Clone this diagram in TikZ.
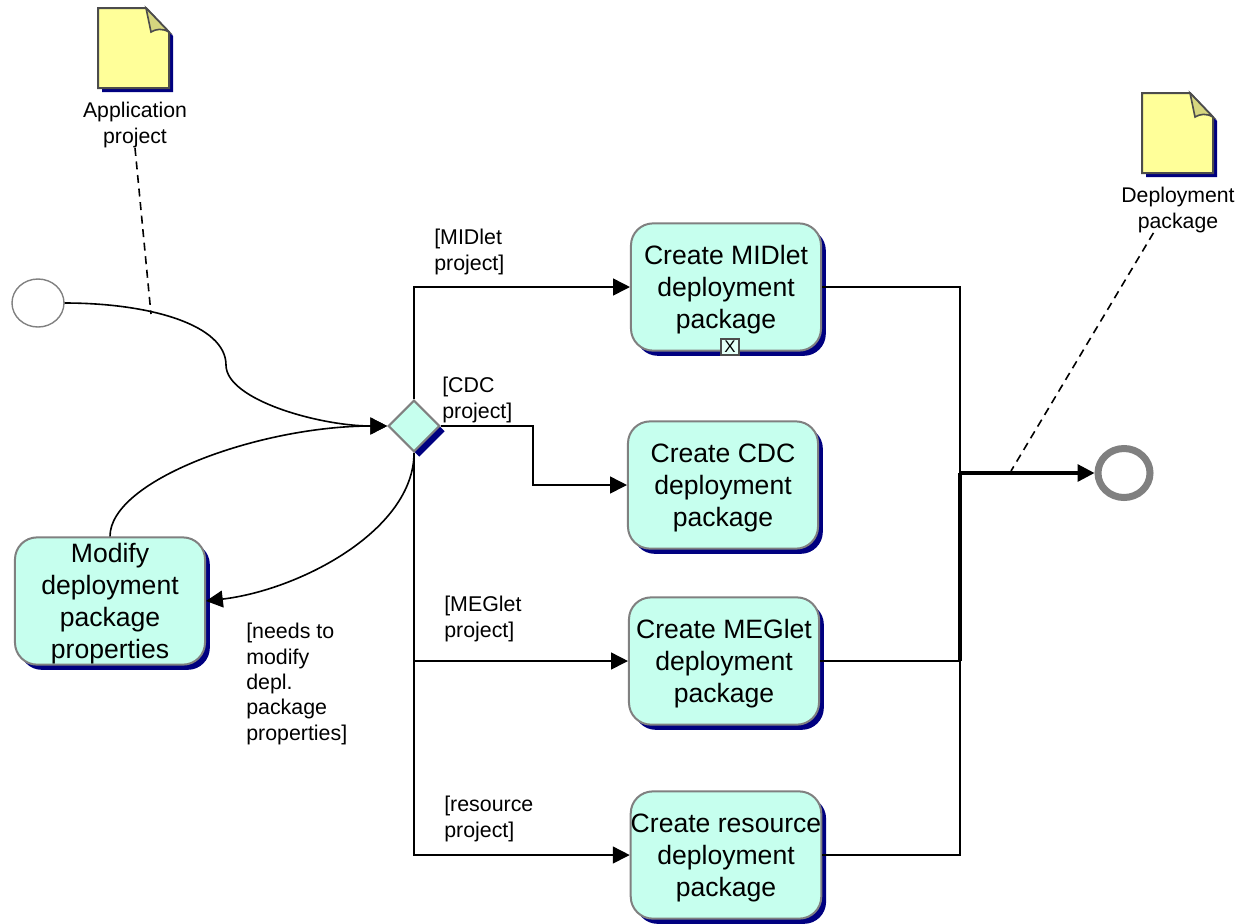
\documentclass[tikz,border=0pt]{standalone}
\usepackage{fontspec}
\setmainfont{Liberation Sans}
\usetikzlibrary{arrows.meta}
\usetikzlibrary{shapes.geometric}
\usetikzlibrary{shadows}
\definecolor{taskfill}{HTML}{C6FFEE}
\definecolor{shadowblue}{HTML}{000080}
\definecolor{docfill}{HTML}{FFFF99}
\definecolor{foldfill}{HTML}{D6D67F}
\definecolor{edgegray}{HTML}{808080}
\tikzset{
	tasknode/.style={draw=edgegray,line width=0.05cm,fill=taskfill,rounded corners=0.55cm,minimum width=4.75cm,minimum height=3.18cm,inner sep=0pt,align=center,text depth=-2pt,font=\fontsize{18.9}{22.7}\selectfont,drop shadow={shadow xshift=0.12cm,shadow yshift=-0.13cm,fill=shadowblue,opacity=1}},
	gatenode/.style={diamond,aspect=1,draw=edgegray,line width=0.05cm,fill=taskfill,minimum width=1.29cm,minimum height=1.29cm,inner sep=0pt,drop shadow={shadow xshift=0.13cm,shadow yshift=-0.13cm,fill=shadowblue,opacity=1}},
	startnode/.style={ellipse,draw=edgegray,line width=0.035cm,fill=white,minimum width=1.3cm,minimum height=1.2cm,inner sep=0pt},
	endnode/.style={ellipse,draw=edgegray,line width=0.175cm,fill=white,minimum width=1.3cm,minimum height=1.225cm,inner sep=0pt},
	textlabel/.style={inner sep=0pt,align=center,font=\fontsize{15.1}{18.1}\selectfont},
	guardlabel/.style={inner sep=0pt,anchor=west,align=left,font=\fontsize{15.2}{18.1}\selectfont},
	markbox/.style={draw=black!70,line width=0.03cm,fill=taskfill!50,minimum width=0.45cm,minimum height=0.4cm,inner sep=0pt,font=\fontsize{12}{12}\selectfont},
	flow/.style={line width=0.04cm,-{Triangle[length=0.42cm,width=0.42cm]}},
	plainflow/.style={line width=0.04cm},
	mergeflow/.style={line width=0.08cm},
	notelink/.style={line width=0.04cm,dashed,dash pattern=on 0.2cm off 0.14cm},
	docicon/.pic={
		\fill[shadowblue] (4,4) -- (52,4) -- (75,28) -- (75,84) -- (4,84) -- cycle;
		\draw[draw=black!70,line width=0.05cm,fill=docfill] (0,0) -- (48,0) -- (71,24) -- (71,80) -- (0,80) -- cycle;
		\draw[draw=black!70,line width=0.04cm,fill=foldfill] (48,0) -- (71,24) .. controls (64,20) and (58,21) .. (53,24) -- cycle;
	}
}

\begin{document}
\begin{tikzpicture}[x=0.025cm,y=-0.025cm]
				
				\useasboundingbox (0,0) rectangle (1240,923);
				
				\node[startnode] (start) at (38,303) {};
				\node[gatenode] (gate) at (414,426) {};
				\node[endnode] (end) at (1124,473) {};
				
				\node[tasknode] (midlet) at (726,287) {Create MIDlet\\deployment\\package};
				\node[tasknode] (cdc) at (723,485) {Create CDC\\deployment\\package};
				\node[tasknode] (meglet) at (724,661) {Create MEGlet\\deployment\\package};
				\node[tasknode] (resource) at (726,855) {Create resource\\deployment\\package};
				\node[tasknode] (modify) at (110,601) {Modify\\deployment\\package\\properties};
				\node[markbox] (mark) at (730,347) {X};
				
				\pic at (98,8) {docicon};
				\pic at (1142,93) {docicon};
				\node[textlabel] (applab) at (135,125) {Application\\project};
				\node[textlabel] (deplab) at (1178,210) {Deployment\\package};
				
				\node[guardlabel] (g1) at (434,252) {[MIDlet\\project]};
				\node[guardlabel] (g2) at (442,400) {[CDC\\project]};
				\node[guardlabel] (g3) at (444,619) {[MEGlet\\project]};
				\node[guardlabel] (g4) at (444,819) {[resource\\project]};
				\node[guardlabel] (g5) at (246,684) {[needs to\\modify\\depl.\\package\\properties]};
				
				\coordinate (bend) at (226,365);
				\coordinate (appjoin) at (151,314);
				\coordinate (merge) at (960,473);
				\coordinate (depjoin) at (1011,471);
				\coordinate (cdcmid) at (533,426);
				
				\draw[flow] (start.east) .. controls (150,303) and (226,325) .. (bend) .. controls (226,400) and (320,426) .. (gate.west);
				\draw[flow] (modify.north) .. controls (110,480) and (260,426) .. (gate.west);
				\draw[flow] (gate.south) .. controls (414,530) and (300,590) .. (modify.east);
				
				\draw[flow] (gate.north) |- (midlet.west);
				\draw[flow] (gate.east) -- (cdcmid) |- (cdc.west);
				\draw[flow] (gate.south) |- (meglet.west);
				\draw[flow] (gate.south) |- (resource.west);
				
				\draw[plainflow] (midlet.east) -| (merge);
				\draw[plainflow] (meglet.east) -| (merge);
				\draw[plainflow] (resource.east) -| (merge);
				\draw[mergeflow] (merge) -- (merge |- meglet.east);
				\draw[flow,line width=0.08cm] (merge) -- (end.west);
				
				\draw[notelink] (applab.south) -- (appjoin);
				\draw[notelink] (deplab.223) -- (depjoin);
				
			\end{tikzpicture}
\end{document}
